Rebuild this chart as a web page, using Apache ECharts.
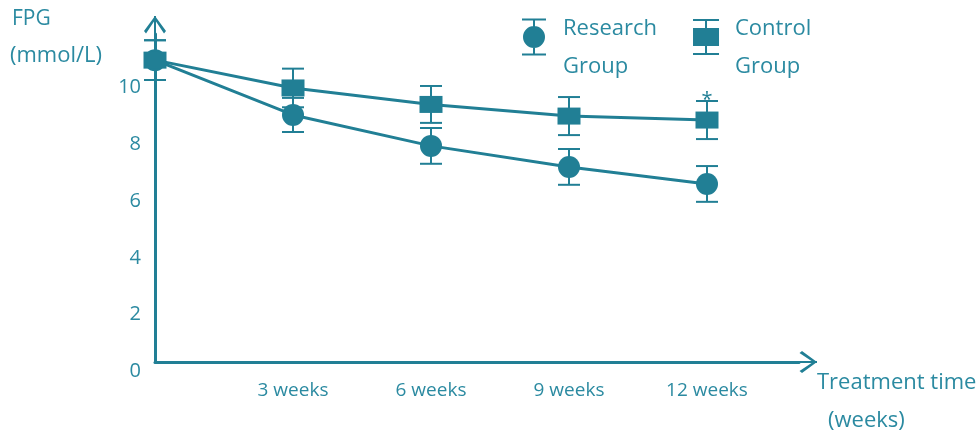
<!DOCTYPE html>
<html>
<head>
<meta charset="utf-8">
<script src="https://cdn.jsdelivr.net/npm/echarts@6/dist/echarts.min.js"></script>
<style>
  html, body { margin: 0; padding: 0; background: #fff; }
  #chart { width: 977px; height: 436px; }
</style>
</head>
<body>
<div id="chart"></div>
<script>
const weeks = [0, 3, 6, 9, 12]
const xTicks = [3, 6, 9, 12]
const xLabels = ["3 weeks", "6 weeks", "9 weeks", "12 weeks"]
const yTicks = [0, 2, 4, 6, 8, 10]

const research = [10.63, 8.70, 7.61, 6.87, 6.27]
const researchErr = [0.70, 0.60, 0.63, 0.63, 0.63]
const control = [10.63, 9.65, 9.07, 8.66, 8.52]
const controlErr = [0.70, 0.68, 0.65, 0.67, 0.67]
const controlMark = ["", "", "", "", "*"]

const teal = "#217f95"
const textTeal = "#2b8aa1"
const font = "Open Sans"

// open chevron arrow head (points up), with a stem so the axis line reaches the tip
const arrowPath = "path://M11 0L22 15L20 17.5L11 4L2 17.5L0 15Z M10 0H12V36H10Z"
const circleIcon = "path://M0 0H24V2H0Z M0 35H24V37H0Z M11 0H13V37H11Z M1 18.5A11 11 0 1 1 23 18.5A11 11 0 1 1 1 18.5Z"
const squareIcon = "path://M0 0H26V2H0Z M0 34H26V36H0Z M12 0H14V36H12Z M0 9H26V27H0Z"

function pairs(vals) {
    return weeks.map((w, i) => [w, vals[i]])
}
function errData(vals, errs) {
    return weeks.map((w, i) => [w, vals[i] - errs[i], vals[i] + errs[i], i])
}

function errRenderer(marks) {
    return function (params, api) {
        const x = api.value(0)
        const lo = api.coord([x, api.value(1)])
        const hi = api.coord([x, api.value(2)])
        const w = 11
        const style = { stroke: teal, lineWidth: 2 }
        const children = [
            { type: "line", shape: { x1: hi[0], y1: hi[1], x2: lo[0], y2: lo[1] }, style },
            { type: "line", shape: { x1: hi[0] - w, y1: hi[1], x2: hi[0] + w, y2: hi[1] }, style },
            { type: "line", shape: { x1: lo[0] - w, y1: lo[1], x2: lo[0] + w, y2: lo[1] }, style },
        ]
        const mark = marks ? marks[api.value(3)] : ""
        if (mark) {
            children.push({
                type: "text",
                style: {
                    text: mark, x: hi[0], y: hi[1] - 1,
                    fill: teal, fontSize: 20, fontFamily: font,
                    align: "center", verticalAlign: "middle",
                },
            })
        }
        return { type: "group", children }
    }
}

const chart = echarts.init(document.getElementById("chart"))
chart.setOption({
    animation: false,
    grid: { left: 155, top: 34, right: 178, bottom: 74, outerBoundsMode: "none" },
    legend: {
        left: 522,
        top: -6,
        padding: 0,
        itemWidth: 26,
        itemHeight: 37,
        itemGap: 36,
        selectedMode: false,
        itemStyle: { borderWidth: 0 },
        textStyle: {
            color: textTeal, fontSize: 22, fontFamily: font,
            rich: {
                s: { lineHeight: 22, fontSize: 10 },
                t: { color: textTeal, fontSize: 22, fontFamily: font, lineHeight: 38, padding: [0, 0, 0, 11] },
            },
        },
        formatter: (name) => "{s| }\n" + name.split("\n").map((p) => "{t|" + p + "}").join("\n"),
        data: [
            { name: "Research\nGroup", icon: circleIcon },
            { name: "Control\nGroup", icon: squareIcon },
        ],
    },
    xAxis: {
        type: "value",
        min: 0,
        max: 14,
        interval: 3,
        splitLine: { show: false },
        axisTick: { show: false },
        axisLine: {
            lineStyle: { color: teal, width: 3 },
            symbol: ["none", arrowPath],
            symbolSize: [22, 36],
        },
        axisLabel: {
            color: textTeal, fontSize: 19, fontFamily: font, margin: 19,
            showMinLabel: false, showMaxLabel: false,
            formatter: (v) => {
                const i = xTicks.indexOf(v)
                return i < 0 ? "" : xLabels[i]
            },
        },
    },
    yAxis: {
        type: "value",
        min: 0,
        max: 11.55,
        interval: 2,
        splitLine: { show: false },
        axisTick: { show: false },
        axisLine: {
            show: true,
            lineStyle: { color: teal, width: 3 },
            symbol: ["none", arrowPath],
            symbolSize: [22, 36],
        },
        axisLabel: {
            color: textTeal, fontSize: 20, fontFamily: font, margin: 14,
            verticalAlign: "top", lineHeight: 19,
            showMaxLabel: false,
            formatter: (v) => (yTicks.includes(v) ? String(v) : ""),
        },
    },
    graphic: [
        { type: "text", left: 12, top: 9, style: { text: "FPG", fill: textTeal, fontSize: 21, fontFamily: font } },
        { type: "text", left: 10, top: 45, style: { text: "(mmol/L)", fill: textTeal, fontSize: 22, fontFamily: font } },
        { type: "text", left: 817, top: 372, style: { text: "Treatment time", fill: textTeal, fontSize: 22, fontFamily: font } },
        { type: "text", left: 828, top: 410, style: { text: "(weeks)", fill: textTeal, fontSize: 22, fontFamily: font } },
    ],
    series: [
        {
            type: "custom",
            name: "researchErr",
            renderItem: errRenderer(null),
            data: errData(research, researchErr),
            z: 1,
        },
        {
            type: "custom",
            name: "controlErr",
            renderItem: errRenderer(controlMark),
            data: errData(control, controlErr),
            z: 1,
        },
        {
            type: "line",
            name: "Research\nGroup",
            data: pairs(research),
            symbol: "circle",
            symbolSize: 22,
            lineStyle: { color: teal, width: 3 },
            itemStyle: { color: teal, borderWidth: 0 },
            z: 3,
        },
        {
            type: "line",
            name: "Control\nGroup",
            data: pairs(control),
            symbol: "rect",
            symbolSize: [23, 17],
            lineStyle: { color: teal, width: 3 },
            itemStyle: { color: teal, borderWidth: 0 },
            z: 4,
        },
    ],
})
</script>
</body>
</html>
